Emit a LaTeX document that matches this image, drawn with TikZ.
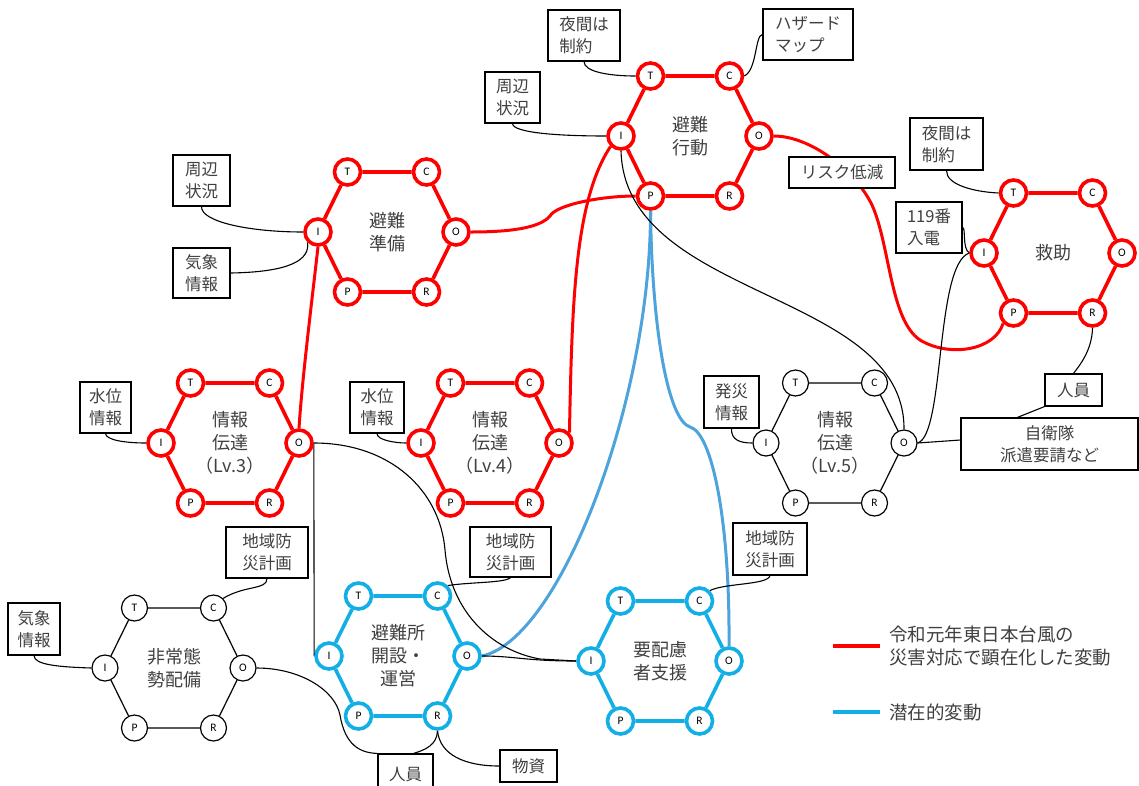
\documentclass[tikz,border=0pt]{standalone}
\usepackage{fontspec}
\setmainfont{Noto Sans CJK JP}
\newfontfamily\latinf{Carlito}
\usetikzlibrary{backgrounds,calc}
\definecolor{hexblue}{HTML}{12AEE6}
\definecolor{connblue}{HTML}{4DA3DB}
\definecolor{txtgray}{HTML}{404040}
\newcommand\framhex[4]{%
  \begin{scope}[shift={#2}]
    \node[port,#3] (#1-T) at (-39.5,-60) {T};
    \node[port,#3] (#1-C) at (39.5,-60) {C};
    \node[port,#3] (#1-I) at (-69,0) {I};
    \node[port,#3] (#1-O) at (69,0) {O};
    \node[port,#3] (#1-P) at (-39.5,60) {P};
    \node[port,#3] (#1-R) at (39.5,60) {R};
    \draw[#3] (#1-T)--(#1-C)--(#1-O)--(#1-R)--(#1-P)--(#1-I)--(#1-T);
    \node[hexlabel] (#1-L) at (0,0) {#4};
  \end{scope}}
\tikzset{
  port/.style={circle, minimum size=26pt, inner sep=0pt, fill=white, text=black, font=\latinf\fontsize{11.5}{11.5}\selectfont},
  redhex/.style={draw=red, line width=3.6pt},
  bluehex/.style={draw=hexblue, line width=3.6pt},
  blackhex/.style={draw=black, line width=1.2pt},
  hexlabel/.style={align=center, text=txtgray, inner sep=0pt, font=\fontsize{18}{23}\selectfont},
  box/.style={draw=black, line width=1.2pt, fill=white, text=txtgray, align=left, inner sep=0pt, font=\fontsize{16.5}{22}\selectfont},
  rconn/.style={draw=red, line width=3pt},
  bconn/.style={draw=connblue, line width=3pt},
  kconn/.style={draw=black, line width=1.1pt},
  legtext/.style={anchor=west, align=left, text=txtgray, inner sep=0pt, font=\fontsize{18.5}{23}\selectfont}
}
\begin{document}
\begin{tikzpicture}[x=1pt,y=-1pt]
\useasboundingbox (0,0) rectangle (1139,785);
% hexagons
\framhex{A}{(690,136)}{redhex}{避難\\行動}
\framhex{B}{(387,232)}{redhex}{避難\\準備}
\framhex{L3}{(230,443)}{redhex}{情報\\伝達\\（Lv.3）}
\framhex{L4}{(490,443)}{redhex}{情報\\伝達\\（Lv.4）}
\framhex{L5}{(835,443)}{blackhex}{情報\\伝達\\（Lv.5）}
\framhex{K}{(1053,253)}{redhex}{救助}
\framhex{H}{(174,668)}{blackhex}{非常態\\勢配備}
\framhex{S}{(398,656)}{bluehex}{避難所\\開設・\\運営}
\framhex{Y}{(660,661)}{bluehex}{要配慮\\者支援}
% boxes
\node[box, minimum width=55pt, minimum height=51pt] (bA1) at (512.5,97.5) {周辺\\状況};
\node[box, minimum width=72pt, minimum height=51pt] (bA2) at (584,35.5) {夜間は\\制約};
\node[box, minimum width=90pt, minimum height=51pt] (bA3) at (808,34.5) {ハザード\\マップ};
\node[box, minimum width=106pt, minimum height=31pt] (bR) at (842,172.5) {リスク低減};
\node[box, minimum width=57pt, minimum height=51pt] (bB1) at (201.5,180.5) {周辺\\状況};
\node[box, minimum width=57pt, minimum height=50pt] (bB2) at (201.5,273) {気象\\情報};
\node[box, minimum width=73pt, minimum height=52pt] (bK1) at (946.5,144) {夜間は\\制約};
\node[box, minimum width=66pt, minimum height=51pt] (b119) at (929,227.5) {119番\\入電};
\node[box, minimum width=51pt, minimum height=51pt] (bW3) at (105.5,407.5) {水位\\情報};
\node[box, minimum width=54pt, minimum height=51pt] (bW4) at (377,407.5) {水位\\情報};
\node[box, minimum width=55pt, minimum height=52pt] (bH) at (731.5,402) {発災\\情報};
\node[box, minimum width=57pt, minimum height=32pt] (bP1) at (1073.5,390) {人員};
\node[box, minimum width=177pt, minimum height=52pt, align=center] (bJ) at (1049.5,444) {自衛隊\\派遣要請など};
\node[box, minimum width=82pt, minimum height=51pt] (bD1) at (267,552.5) {地域防\\災計画};
\node[box, minimum width=52pt, minimum height=52pt] (bQ) at (34,629) {気象\\情報};
\node[box, minimum width=81pt, minimum height=50pt] (bD2) at (510.5,552) {地域防\\災計画};
\node[box, minimum width=55pt, minimum height=40pt] (bP2) at (405.5,774) {人員};
\node[box, minimum width=57pt, minimum height=32pt] (bM) at (528.5,766) {物資};
\node[box, minimum width=74pt, minimum height=52pt] (bD3) at (770,549) {地域防\\災計画};
% connectors
\begin{pgfonlayer}{background}
\fill[white] (0,0) rectangle (1139,785);
\draw[rconn] (B-O.east) .. controls (510,232) and (540,228) .. (550,216) .. controls (556,205) and (600,196) .. (A-P.west);
\draw[rconn] (L3-O.north) .. controls (302,380) and (312,300) .. (B-I.south);
\draw[rconn] (L4-O.north east) .. controls (572,300) and (575,200) .. (A-I.south west);
\draw[rconn] (A-O.east) .. controls (810,136) and (855,170) .. (872,205) .. controls (890,245) and (890,320) .. (920,340) .. controls (950,358) and (995,350) .. (K-P.south west);
\draw[bconn] (A-P.south) .. controls (651,400) and (560,640) .. (S-O.east);
\draw[bconn] (A-P.south) .. controls (652,330) and (668,420) .. (690,427) .. controls (712,433) and (730,520) .. (Y-O.north);
\draw[kconn] (bA1.south) .. controls (513,133) and (560,136) .. (A-I.west);
\draw[kconn] (bA2.south) .. controls (584,72) and (610,76) .. (A-T.west);
\draw[kconn] (bA3.west) .. controls (755,35) and (757,70) .. (A-C.east);
\draw[kconn] (A-I.south) .. controls (625,300) and (905,290) .. (L5-O.north);
\draw[kconn] (L5-O.east) .. controls (945,435) and (935,265) .. (K-I.west);
\draw[kconn] (b119.east) .. controls (966,228) and (962,248) .. (K-I.west);
\draw[kconn] (bK1.south) .. controls (946,185) and (975,192) .. (K-T.west);
\draw[kconn] (K-R.south) .. controls (1092,350) and (1080,365) .. (bP1.north);
\draw[kconn] (bP1.south west) -- ([xshift=57pt]bJ.north west);
\draw[kconn] (L5-O.east) -- ([yshift=4pt]bJ.west);
\draw[kconn] (bH.south) .. controls (731,440) and (740,443) .. (L5-I.west);
\draw[kconn] (bW3.south) .. controls (106,440) and (125,443) .. (L3-I.west);
\draw[kconn] (bW4.south) .. controls (377,440) and (395,443) .. (L4-I.west);
\draw[kconn] (bB1.south) .. controls (201,222) and (250,232) .. (B-I.west);
\draw[kconn] (bB2.east) .. controls (290,272) and (310,260) .. (B-I.south west);
\draw[kconn] (L3-O.east) -- (S-I.west);
\draw[kconn] (L3-O.east) .. controls (390,443) and (440,490) .. (445,550) .. controls (450,610) and (490,650) .. (540,659) -- (Y-I.west);
\draw[kconn] (S-O.east) .. controls (515,656) and (525,661) .. (Y-I.west);
\draw[kconn] (H-O.east) .. controls (300,668) and (335,690) .. (340,715) .. controls (345,745) and (360,753) .. (bP2.north west);
\draw[kconn] (S-R.south) .. controls (437,745) and (425,750) .. ([xshift=8pt]bP2.north);
\draw[kconn] (S-R.south) .. controls (440,755) and (465,766) .. (bM.west);
\draw[kconn] (bD1.south) .. controls (267,590) and (245,585) .. (H-C.north east);
\draw[kconn] (bQ.south) .. controls (34,665) and (60,667) .. (H-I.west);
\draw[kconn] (bD2.south) .. controls (505,583) and (470,582) .. (S-C.north east);
\draw[kconn] (bD3.south) .. controls (768,585) and (725,583) .. (Y-C.north east);
\end{pgfonlayer}
% legend
\coordinate (lr1) at (833,646); \coordinate (lr2) at (880,646);
\coordinate (lb1) at (833,712); \coordinate (lb2) at (880,712);
\draw[draw=red, line width=3.5pt] (lr1) -- (lr2);
\draw[draw=hexblue, line width=3.5pt] (lb1) -- (lb2);
\node[legtext] (lt1) at (889,646) {令和元年東日本台風の\\災害対応で顕在化した変動};
\node[legtext] (lt2) at (889,712) {潜在的変動};
\end{tikzpicture}
\end{document}
